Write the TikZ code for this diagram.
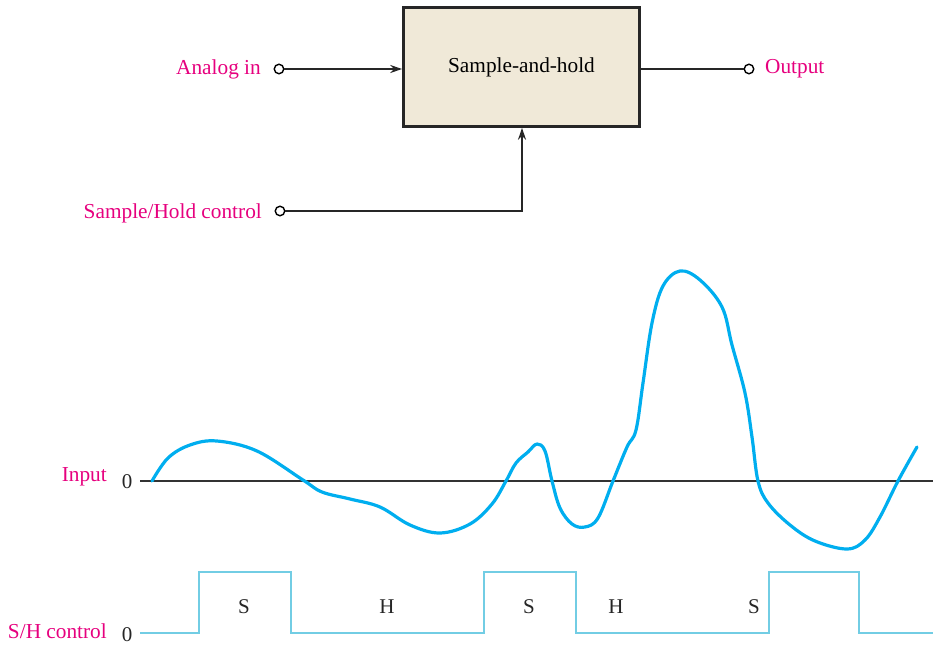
\documentclass[tikz,border=0pt]{standalone}
\usepackage{fontspec}
\setmainfont{Liberation Serif}
\usetikzlibrary{arrows.meta}
\definecolor{mag}{HTML}{E6007E}
\definecolor{beige}{HTML}{F0E9D8}
\definecolor{wave}{HTML}{00AEEF}
\definecolor{ctrl}{HTML}{72CDE4}
\definecolor{axisc}{HTML}{333333}
\begin{document}
\begin{tikzpicture}[x=1pt,y=-1pt,
  lbl/.style={text=mag,font=\fontsize{21.3}{25}\selectfont,inner sep=0pt},
  txt/.style={font=\fontsize{21}{25}\selectfont,inner sep=0pt,text=black!85},
  term/.style={circle,draw=black,fill=white,line width=1.4pt,minimum size=9.5pt,inner sep=0pt},
  wire/.style={line width=1.6pt,black!85},
  arr/.style={wire,-{Stealth[length=12pt,width=8pt]}},
  blk/.style={draw=black!85,line width=2.6pt,fill=beige,minimum width=236pt,minimum height=119pt,inner sep=0pt,font=\fontsize{21.3}{25}\selectfont}]
\useasboundingbox (0,0) rectangle (943,648);
% block diagram
\node[blk] (sh) at (521.5,67) {Sample-and-hold};
\node[term] (ain) at (279,69) {};
\node[lbl,anchor=east] (tain) at (261,69) {Analog in};
\node[term] (out) at (749,69) {};
\node[lbl,anchor=west] (tout) at (765,69) {Output};
\node[term] (shc) at (280,211) {};
\node[lbl,anchor=east] (tshc) at (262,213) {Sample/Hold control};
\draw[arr] (ain) -- (sh.west |- ain);
\draw[wire] (sh.east |- out) -- (out);
\coordinate (bend) at (522,211);
\draw[arr] (shc) -- (bend) -- (sh.south -| bend);
% input axis
\node[lbl,anchor=east] (tin) at (107,477) {Input};
\node[txt] (z1) at (127,482) {0};
\coordinate (a0) at (140,481);
\coordinate (a1) at (933,481);
\draw[line width=1.5pt,axisc] (a0) -- (a1);
% waveform
\draw[wave,line width=3.2pt,line cap=round,line join=round] plot[smooth,tension=0.6] coordinates {
 (152,481) (168,458) (190,445) (217,441) (257,451) (303,480) (322,492) (350,499) (380,507)
 (410,525) (440,533) (470,524) (492,504) (506,481) (516,463) (528,452) (537,444) (545,451)
 (552,481) (560,508) (572,524) (585,527) (598,518) (613,481) (627,447) (636,430) (643,383)
 (652,323) (663,286) (680,271) (700,280) (722,307) (732,345) (745,393) (752,437) (758,481)
 (768,503) (790,525) (815,541) (847,549) (865,540) (880,517) (898,481) (917,447)};
% S/H control
\node[lbl,anchor=east] (tsh) at (107,631) {S/H control};
\node[txt] (z2) at (127,635) {0};
\coordinate (c0) at (140,633);
\coordinate (c1) at (933,633);
\draw[ctrl,line width=2.7pt] (c0) -- (199,633) -- (199,572) -- (291,572) -- (291,633) -- (484,633)
  -- (484,572) -- (576,572) -- (576,633) -- (769,633) -- (769,572) -- (859,572) -- (859,633) -- (c1);
\node[txt] (s1) at (244,607) {S};
\node[txt] (h1) at (387,607) {H};
\node[txt] (s2) at (529,607) {S};
\node[txt] (h2) at (616,607) {H};
\node[txt] (s3) at (754,607) {S};
\end{tikzpicture}
\end{document}
